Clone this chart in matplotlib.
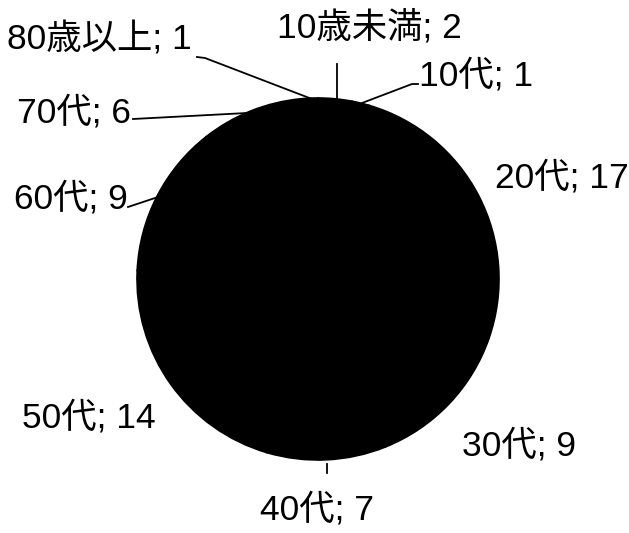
import matplotlib
matplotlib.use('Agg')
import matplotlib.pyplot as plt
import numpy as np

plt.rcParams['font.family'] = ['Liberation Sans', 'Noto Sans CJK JP', 'DejaVu Sans']

# データ
categories = ['10歳未満', '10代', '20代', '30代', '40代', '50代', '60代', '70代', '80歳以上']
values = [2, 1, 17, 9, 7, 14, 9, 6, 1]

W, H = 629, 533
fig = plt.figure(figsize=(W / 100, H / 100), dpi=100)
fig.patch.set_facecolor('white')

# 円の中心と半径 (ピクセル)
cx, cy, r = 318, 279, 181
ax = fig.add_axes([(cx - r) / W, (H - cy - r) / H, 2 * r / W, 2 * r / H])

ax.pie(values, startangle=90, counterclock=False, radius=1,
       colors=['black'] * len(values),
       wedgeprops=dict(edgecolor='black', linewidth=1.2))
ax.set_xlim(-1, 1)
ax.set_ylim(-1, 1)
ax.set_aspect('equal')
ax.axis('off')

def px(x, y):
    # ピクセル座標 -> データ座標
    return (x - cx) / r, (cy - y) / r

# ラベル位置 (左端, ベースライン; ピクセル) と引き出し線
label_pos = {
    '10歳未満': (277, 37),
    '10代': (419, 85),
    '20代': (495, 187),
    '30代': (462, 455),
    '40代': (260, 520),
    '50代': (22, 427),
    '60代': (14, 208),
    '70代': (17, 122),
    '80歳以上': (7, 49),
}
leaders = {
    '10歳未満': [(337, 64), (337, 99)],
    '10代': [(418, 84), (412, 84), (362, 103)],
    '80歳以上': [(197, 57), (205, 58), (312, 99)],
    '70代': [(133, 119), (247, 113)],
    '60代': [(128, 207), (158, 197)],
    '40代': [(327, 464), (327, 473)],
}

for cat, val in zip(categories, values):
    x, y = px(*label_pos[cat])
    ax.text(x, y, f'{cat}; {val}', ha='left', va='baseline',
            fontsize=25.5, color='black', clip_on=False)
    if cat in leaders:
        pts = [px(*p) for p in leaders[cat]]
        ax.plot([p[0] for p in pts], [p[1] for p in pts], color='black',
                lw=1.3, clip_on=False)

fig.savefig('out.png', dpi=100, facecolor='white')
